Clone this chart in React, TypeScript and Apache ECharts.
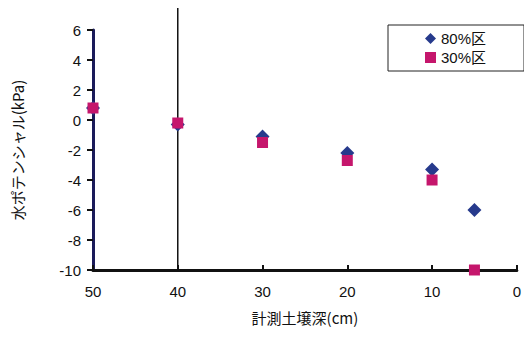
import React, { useEffect, useRef } from "react";
import * as echarts from "echarts";

const depths = [50, 40, 30, 20, 10, 5];
const s80 = [0.8, -0.3, -1.1, -2.2, -3.3, -6.0];
const s30 = [0.8, -0.2, -1.5, -2.7, -4.0, -10.0];
const seriesNames = ["80%区", "30%区"];
const xTicks = [0, 10, 20, 30, 40, 50];
const yTicks = [-10, -8, -6, -4, -2, 0, 2, 4, 6];
const markerDepth = 40;

const FONT = "'Liberation Sans', Arial, 'Noto Sans CJK JP', sans-serif";

export default function App() {
  const ref = useRef<HTMLDivElement>(null);
  useEffect(() => {
    if (!ref.current) return;
    const chart = echarts.init(ref.current, undefined, { renderer: "svg" });
    const option: any = {
      animation: false,
      backgroundColor: "#ffffff",
      textStyle: { fontFamily: FONT },
      grid: { left: 93, right: 4, top: 30, bottom: 68, containLabel: false },
      legend: {
        orient: "vertical",
        left: 388,
        top: 25,
        data: [
          { name: seriesNames[0], icon: "diamond" },
          { name: seriesNames[1], icon: "rect" },
        ],
        itemWidth: 11,
        itemHeight: 11,
        itemGap: 4,
        padding: [6, 38, 6, 37],
        borderColor: "#222",
        borderWidth: 1,
        textStyle: { fontSize: 15, color: "#111", fontFamily: FONT },
      },
      xAxis: {
        type: "value",
        inverse: true,
        min: xTicks[0],
        max: xTicks[xTicks.length - 1],
        interval: 10,
        name: "計測土壌深(cm)",
        nameLocation: "middle",
        nameGap: 40,
        nameTextStyle: { fontSize: 15, color: "#111", fontFamily: "'Noto Sans CJK JP', sans-serif" },
        axisLine: { onZero: false, lineStyle: { color: "#111", width: 3 } },
        axisTick: { inside: true, length: 5, lineStyle: { color: "#111", width: 2 } },
        axisLabel: { fontSize: 15, color: "#111", margin: 14 },
        splitLine: { show: false },
      },
      yAxis: {
        type: "value",
        min: yTicks[0],
        max: yTicks[yTicks.length - 1],
        interval: 2,
        name: "水ポテンシャル(kPa)",
        nameLocation: "middle",
        nameGap: 68,
        nameRotate: 90,
        nameTextStyle: { fontSize: 15, color: "#111", fontFamily: "'Noto Sans CJK JP', sans-serif" },
        axisLine: { onZero: false, lineStyle: { color: "#1a1a5a", width: 3 } },
        axisTick: { inside: false, length: 6, lineStyle: { color: "#111", width: 2 } },
        axisLabel: { fontSize: 15, color: "#111", margin: 12 },
        splitLine: { show: false },
      },
      series: [
        {
          name: seriesNames[0],
          type: "scatter",
          symbol: "diamond",
          symbolSize: 14,
          itemStyle: { color: "#263a8c", opacity: 1 },
          data: depths.map((d, i) => [d, s80[i]]),
        },
        {
          name: seriesNames[1],
          type: "scatter",
          symbol: "rect",
          symbolSize: 11,
          itemStyle: { color: "#c5166c", opacity: 1 },
          data: depths.map((d, i) => [d, s30[i]]),
        },
      ],
    };
    chart.setOption(option);
    const top = chart.convertToPixel({ gridIndex: 0 }, [markerDepth, yTicks[yTicks.length - 1]]);
    const bot = chart.convertToPixel({ gridIndex: 0 }, [markerDepth, yTicks[0]]);
    if (top && bot) {
      chart.setOption({
        graphic: [
          {
            type: "line",
            shape: { x1: top[0], y1: 8, x2: bot[0], y2: bot[1] },
            style: { stroke: "#111", lineWidth: 1.5 },
            z: 1,
          },
        ],
      });
    }
    return () => chart.dispose();
  }, []);
  return <div ref={ref} style={{ width: 524, height: 338, position: "absolute", left: 0, top: 0 }} />;
}
